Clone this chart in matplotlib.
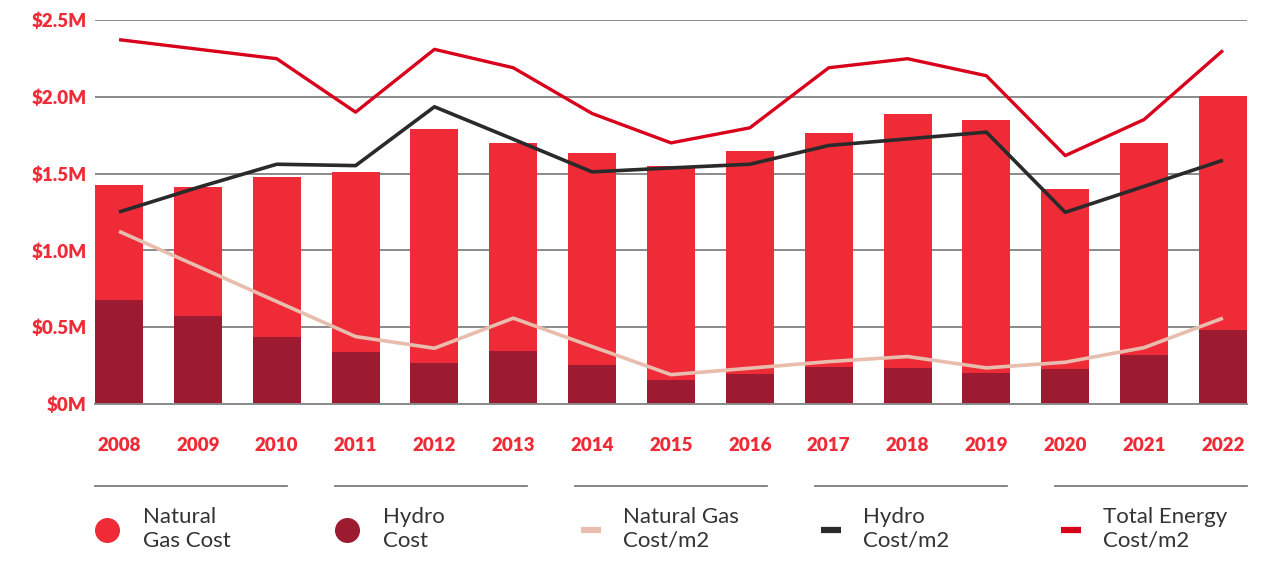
import numpy as np
import matplotlib.pyplot as plt
from matplotlib.lines import Line2D

years = [str(y) for y in range(2008, 2023)]
# bar totals (natural gas stacked on hydro), $M
total_cost = [1.428, 1.415, 1.480, 1.513, 1.793, 1.696, 1.637, 1.552, 1.650,
              1.767, 1.891, 1.852, 1.402, 1.702, 2.002]
hydro_cost = [0.678, 0.574, 0.437, 0.339, 0.267, 0.346, 0.254, 0.157, 0.196,
              0.241, 0.235, 0.202, 0.228, 0.320, 0.483]
gas_cost = [t - h for t, h in zip(total_cost, hydro_cost)]

# per m2 lines, drawn on the same scale as in the source
gas_m2 = [1.124, 0.896, 0.667, 0.439, 0.363, 0.559, 0.374, 0.191, 0.233,
          0.276, 0.309, 0.235, 0.272, 0.367, 0.559]
hydro_m2 = [1.250, 1.410, 1.561, 1.552, 1.935, 1.724, 1.511, 1.537, 1.561,
            1.683, 1.726, 1.770, 1.248, 1.417, 1.587]
total_m2 = [2.372, 2.310, 2.248, 1.900, 2.309, 2.189, 1.891, 1.700, 1.798,
            2.189, 2.248, 2.137, 1.617, 1.852, 2.302]

yticks = [0, 0.5, 1.0, 1.5, 2.0, 2.5]
ytick_labels = ['$0M', '$0.5M', '$1.0M', '$1.5M', '$2.0M', '$2.5M']

legend_labels = ['Natural\nGas Cost', 'Hydro\nCost', 'Natural Gas\nCost/m2',
                 'Hydro\nCost/m2', 'Total Energy\nCost/m2']

C_GAS = '#ee2b37'
C_HYDRO = '#9c1b30'
C_GAS_LINE = '#e8bdae'
C_HYDRO_LINE = '#2a2a2a'
C_TOTAL_LINE = '#d9001b'
C_TICK = '#ee2b37'
C_GRID = '#8a8a8a'

W, H = 1276, 568
fig = plt.figure(figsize=(W / 100, H / 100), dpi=100)
ax = fig.add_axes([95 / W, (H - 404) / H, (1247 - 95) / W, 384 / H])

x = np.arange(len(years))
bw = 0.61
ax.bar(x, hydro_cost, bw, color=C_HYDRO, zorder=2)
ax.bar(x, gas_cost, bw, bottom=hydro_cost, color=C_GAS, zorder=2)

ax.plot(x, gas_m2, color=C_GAS_LINE, lw=2.6, zorder=3, solid_capstyle='butt')
ax.plot(x, hydro_m2, color=C_HYDRO_LINE, lw=2.6, zorder=3, solid_capstyle='butt')
ax.plot(x, total_m2, color=C_TOTAL_LINE, lw=2.4, zorder=3, solid_capstyle='butt')

ax.set_xlim(-bw / 2, len(years) - 1 + bw / 2)
ax.set_ylim(0, 2.5)
ax.set_yticks(yticks)
ax.set_yticklabels(ytick_labels)
ax.set_xticks(x)
ax.set_xticklabels(years)
ax.yaxis.grid(True, color=C_GRID, lw=1.4, zorder=1)
ax.set_axisbelow(True)
for s in ['top', 'right', 'left']:
    ax.spines[s].set_visible(False)
ax.spines['bottom'].set_color(C_GRID)
ax.spines['bottom'].set_linewidth(1.4)
ax.tick_params(axis='both', length=0, labelcolor=C_TICK, labelsize=13.5)
ax.tick_params(axis='y', pad=6)
ax.tick_params(axis='x', pad=24)
for lab in ax.get_xticklabels() + ax.get_yticklabels():
    lab.set_fontweight('heavy')
    lab.set_family(['Lato', 'DejaVu Sans'])

# legend built by hand, one column per series
col_x = [95, 335, 575, 815, 1055]
kinds = [('o', C_GAS), ('o', C_HYDRO), ('-', C_GAS_LINE), ('-', C_HYDRO_LINE), ('-', C_TOTAL_LINE)]
for cx, (kind, col), lab in zip(col_x, kinds, legend_labels):
    fig.add_artist(Line2D([cx / W, (cx + 192) / W], [(H - 486) / H] * 2,
                          color='#6e6e6e', lw=1.2))
    if kind == 'o':
        fig.add_artist(Line2D([(cx + 12) / W], [(H - 530) / H], marker='o',
                              ms=17, color=col, lw=0))
    else:
        fig.add_artist(Line2D([(cx + 6) / W, (cx + 26) / W], [(H - 530) / H] * 2,
                              color=col, lw=4.5, solid_capstyle='butt'))
    fig.text((cx + 48) / W, (H - 529) / H, lab, ha='left', va='center',
             fontsize=16, color='#333333', linespacing=1.2,
             family=['Lato', 'DejaVu Sans'])

fig.savefig('out.png', dpi=100)
